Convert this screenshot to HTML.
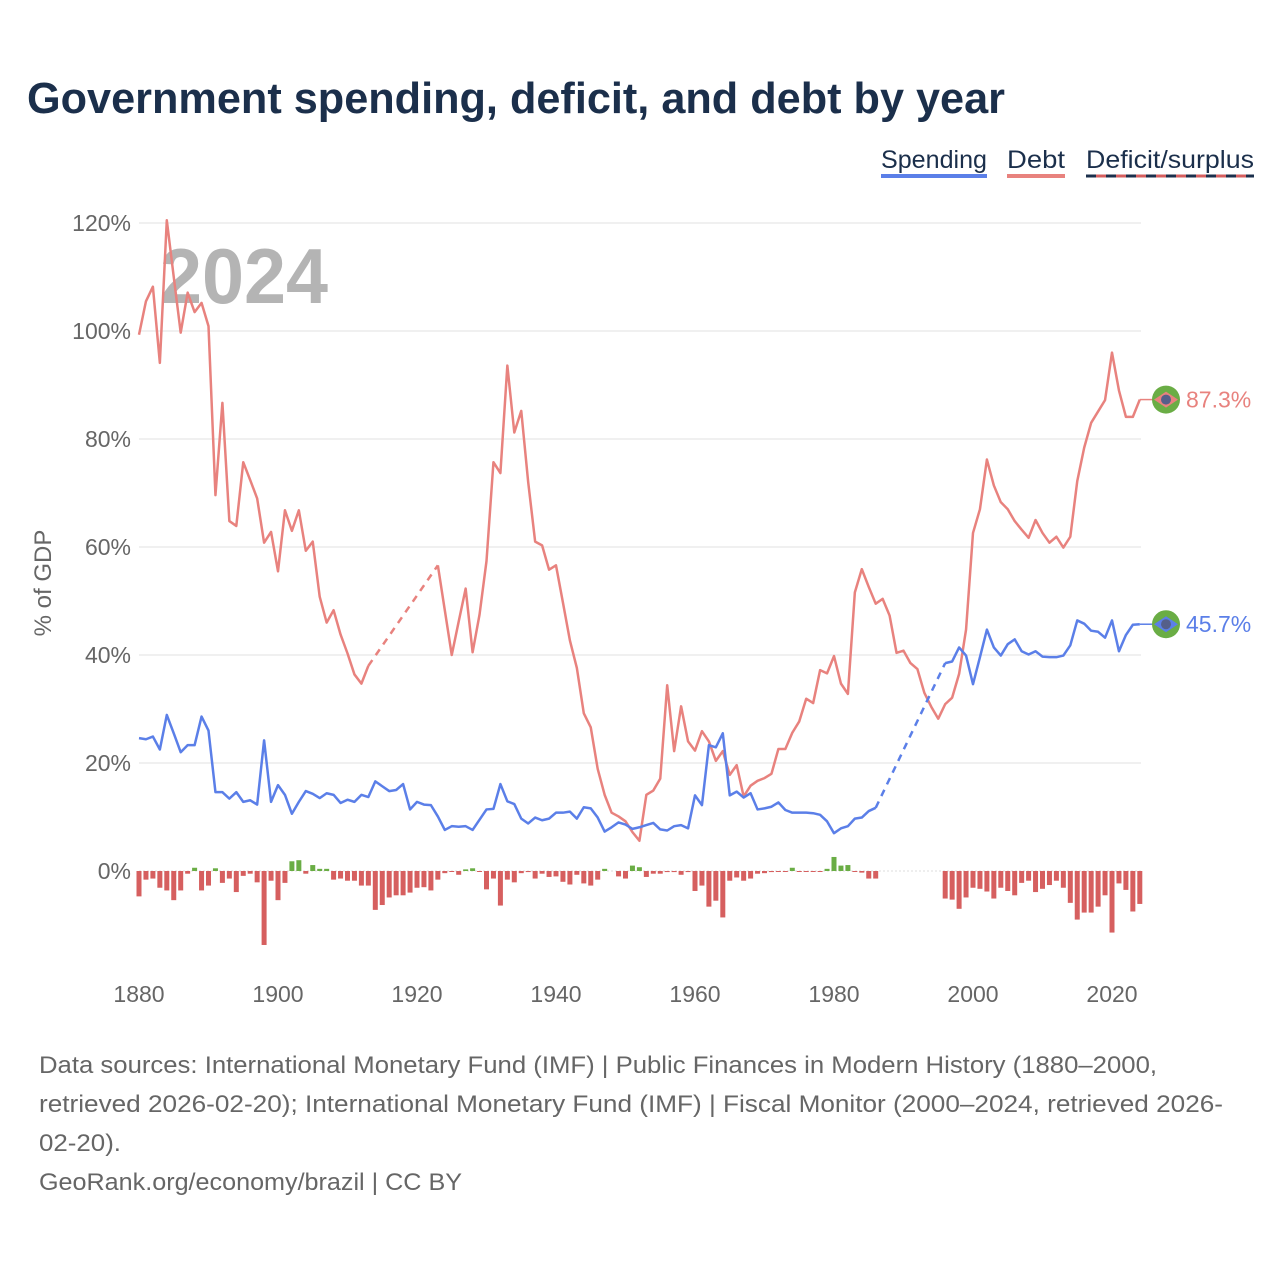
<!DOCTYPE html>
<html><head><meta charset="utf-8">
<style>
body{margin:0;background:#fff;font-family:"Liberation Sans",sans-serif;}
#wrap{position:relative;width:1280px;height:1280px;overflow:hidden;}
</style></head>
<body>
<div id="wrap">
<svg id="chart" width="1280" height="1280">
<text x="27" y="113" font-size="44" font-weight="bold" fill="#1b2f4b" textLength="978" lengthAdjust="spacingAndGlyphs">Government spending, deficit, and debt by year</text>
<g>
<g><text x="881" y="168" font-size="25" fill="#1b2f4b" textLength="106" lengthAdjust="spacingAndGlyphs">Spending</text><rect x="881" y="174" width="106" height="4" fill="#5b7fe8"/></g>
<g><text x="1007" y="168" font-size="25" fill="#1b2f4b" textLength="58" lengthAdjust="spacingAndGlyphs">Debt</text><rect x="1007" y="174" width="58" height="4" fill="#e8827e"/></g>
<g><text x="1086" y="168" font-size="25" fill="#1b2f4b" textLength="168" lengthAdjust="spacingAndGlyphs">Deficit/surplus</text><line x1="1086" y1="176" x2="1254" y2="176" stroke="#1b2f4b" stroke-width="3"/><line x1="1096" y1="176" x2="1254" y2="176" stroke="#d65f5f" stroke-width="3" stroke-dasharray="10 10"/></g>
</g>
<text x="160" y="303" font-size="78" font-weight="bold" fill="#b4b4b4" textLength="168" lengthAdjust="spacingAndGlyphs">2024</text>
<text transform="translate(51,583) rotate(-90)" font-size="24" fill="#666" text-anchor="middle">% of GDP</text>
<g id="grid"></g><g id="bars"></g><g id="lines"></g><g id="labels"></g>
<g font-size="24" fill="#666" lengthAdjust="spacingAndGlyphs">
<text x="39" y="1073" textLength="1118" lengthAdjust="spacingAndGlyphs">Data sources: International Monetary Fund (IMF) | Public Finances in Modern History (1880–2000,</text>
<text x="39" y="1112" textLength="1184" lengthAdjust="spacingAndGlyphs">retrieved 2026-02-20); International Monetary Fund (IMF) | Fiscal Monitor (2000–2024, retrieved 2026-</text>
<text x="39" y="1151" textLength="82" lengthAdjust="spacingAndGlyphs">02-20).</text>
<text x="39" y="1190" textLength="423" lengthAdjust="spacingAndGlyphs">GeoRank.org/economy/brazil | CC BY</text>
</g>
</svg>
</div>
<script>
const startYear = 1880;
const endYear = 2024;
const yTicks = [0,20,40,60,80,100,120];
const xTicks = [1880,1900,1920,1940,1960,1980,2000,2020];
const debt = [99.3,105.5,108.2,94.1,120.5,110,99.7,107.1,103.5,105.2,100.9,69.6,86.7,64.8,63.9,75.7,72.4,69,60.8,62.8,55.5,66.8,63,66.8,59.3,61,50.8,46,48.3,43.8,40.3,36.4,34.7,38,
null,null,null,null,null,null,null,null,null,
56.6,48.3,40,46.2,52.3,40.5,47.5,
57.4,75.7,73.7,93.6,81.2,85.2,72,61,60.3,55.8,56.6,49.7,42.7,37.6,29.2,26.6,18.9,14.1,10.8,10.1,9.2,7.2,5.6,14.1,14.9,17.1,34.4,22.2,30.5,24,22.3,25.9,24,20.4,22.2,17.8,19.6,13.8,15.8,16.7,17.2,18,22.6,22.6,25.6,27.7,31.9,31.1,37.2,36.6,39.8,34.7,32.8,51.6,55.9,52.6,49.5,50.4,
47.3,40.4,40.8,38.5,37.4,33,30.4,28.2,30.9,32.1,36.5,44.7,62.6,67,76.2,71.4,68.3,67,64.8,63.2,61.7,65,62.6,60.8,61.9,59.9,61.9,72.2,78.4,83,85.1,87.2,96,89,84.1,84.1,87.3];
const spending = [24.6,24.4,24.9,22.5,28.9,25.5,22,23.3,23.3,28.6,26,14.6,14.6,13.4,14.6,12.8,13.1,12.3,24.2,12.8,15.9,14.1,10.6,12.8,14.8,14.3,13.5,14.4,14.1,12.6,13.2,12.8,14.1,13.7,16.6,15.7,14.8,15,16.1,11.4,12.8,12.3,12.2,10.1,7.6,8.3,8.2,8.3,7.6,9.5,
11.4,11.5,16.1,12.9,12.4,9.7,8.8,9.9,9.4,9.7,10.8,10.8,11,9.7,11.8,11.6,9.9,7.3,8.1,9,8.6,7.8,8.1,8.5,8.9,7.7,7.5,8.3,8.5,7.9,14,12.2,23.3,22.9,25.5,14,14.7,13.6,14.4,11.4,11.6,11.9,12.7,11.3,10.8,10.8,10.8,10.7,10.4,9.2,7,7.9,8.3,9.7,9.9,11.1,11.7,
null,null,null,null,null,null,null,null,null,
38.5,38.8,41.4,39.9,34.6,39.6,44.7,41.4,39.9,42,42.9,40.7,40.1,40.7,39.7,39.6,39.6,39.9,41.8,46.4,45.8,44.5,44.3,43.2,46.4,40.7,43.7,45.6,45.7];
const deficit = [-4.7,-1.6,-1.4,-3.1,-3.6,-5.4,-3.6,-0.5,0.6,-3.6,-2.7,0.5,-2.2,-1.4,-3.9,-0.9,-0.5,-2.1,-13.7,-1.8,-5.4,-2.2,1.8,2,-0.5,1.1,0.4,0.4,-1.6,-1.4,-1.8,-1.8,-2.7,-2.7,-7.2,-6.3,-4.9,-4.5,-4.5,-4,-3.1,-3,-3.6,-1.6,-0.4,-0.1,-0.7,0.3,0.5,-0.1,
-3.4,-1.4,-6.4,-1.6,-2.1,-0.4,-0.2,-1.4,-0.5,-1.1,-1,-2,-2.5,-0.7,-2.3,-2.7,-1.6,0.4,0,-1,-1.4,1,0.7,-1.1,-0.5,-0.5,-0.2,-0.2,-0.7,-0.2,-3.7,-2.7,-6.6,-5.5,-8.6,-1.8,-1.2,-1.8,-1.4,-0.5,-0.4,-0.2,-0.1,-0.1,0.6,-0.1,-0.1,-0.1,-0.1,0.4,2.6,1,1.1,-0.1,-0.3,-1.4,-1.4,
null,null,null,null,null,null,null,null,null,
-5.1,-5.3,-7,-4.9,-3.1,-3.3,-3.8,-5.1,-3.1,-3.7,-4.5,-2.2,-1.8,-3.9,-3.3,-2.6,-1.8,-3.1,-5.9,-9,-7.7,-7.7,-6.6,-4.5,-11.4,-2.3,-3.5,-7.5,-6.1];

const NS="http://www.w3.org/2000/svg";
const X0=139, PX_YEAR=6.95, Y0=871, PX_UNIT=5.4, XEND=1141;
function xs(y){return X0+(y-startYear)*PX_YEAR;}
function ys(v){return Y0-v*PX_UNIT;}
function mk(tag,attrs,parent){const e=document.createElementNS(NS,tag);for(const k in attrs)e.setAttribute(k,attrs[k]);parent.appendChild(e);return e;}
const grid=document.getElementById('grid'),bars=document.getElementById('bars'),lines=document.getElementById('lines'),labels=document.getElementById('labels');

yTicks.forEach(t=>{
  const l=mk('line',{x1:X0,x2:XEND,y1:ys(t),y2:ys(t),stroke:t===0?'#dcdcdc':'#ebebeb','stroke-width':t===0?1:1.5,'stroke-dasharray':t===0?'2 2':'none'},grid);
  
  
  const tx=mk('text',{x:131,y:ys(t)+8,'font-size':23,fill:'#666','text-anchor':'end'},grid);
  tx.textContent=t+'%';
  
  
});
xTicks.forEach(t=>{
  const tx=mk('text',{x:xs(t),y:1002,'font-size':23,fill:'#666','text-anchor':'middle'},grid);
  tx.textContent=t;
  
  
});

deficit.forEach((v,i)=>{
  if(v===null||v===0)return;
  const yr=startYear+i, x=xs(yr)-2.5;
  const top=v>0?ys(v):Y0, h=Math.max(Math.abs(v)*PX_UNIT,1);
  const r=mk('rect',{x:x,y:top,width:5,height:h,fill:v>0?'#6aad45':'#d65f5f'},bars);
  
  
});

function drawSeries(arr,color,name){
  let seg=[],lastValid=null;
  const solid=[];
  arr.forEach((v,i)=>{
    const yr=startYear+i;
    if(v===null){ if(seg.length)solid.push(seg); seg=[]; return; }
    if(seg.length===0 && lastValid){
      const d=mk('line',{x1:xs(lastValid[0]),y1:ys(lastValid[1]),x2:xs(yr),y2:ys(v),stroke:color,'stroke-width':2.5,'stroke-dasharray':'7 6'},lines);
      
      
    }
    seg.push([xs(yr),ys(v)]); lastValid=[yr,v];
  });
  if(seg.length)solid.push(seg);
  solid.forEach(s=>{
    const p=mk('polyline',{points:s.map(q=>q.join(',')).join(' '),fill:'none',stroke:color,'stroke-width':2.5,'stroke-linejoin':'round'},lines);
    
    
  });
  const lv=arr[arr.length-1], ly=ys(lv);
  mk('line',{x1:xs(endYear),y1:ly,x2:1155,y2:ly,stroke:color,'stroke-width':1.5},lines);
  const g=mk('g',{},labels);
  
  
  mk('circle',{cx:1166,cy:ly,r:14,fill:'#6aad45'},g);
  mk('polygon',{points:`1154,${ly} 1166,${ly-8} 1178,${ly} 1166,${ly+8}`,fill:color},g);
  mk('circle',{cx:1166,cy:ly,r:5,fill:'#555f8a'},g);
  const t=mk('text',{x:1186,y:ly+8,'font-size':23,fill:color},labels);
  t.textContent=lv.toFixed(1)+'%';
  
  
}
drawSeries(debt,'#e8827e','debt');
drawSeries(spending,'#5b7fe8','spending');
</script>
</body></html>
